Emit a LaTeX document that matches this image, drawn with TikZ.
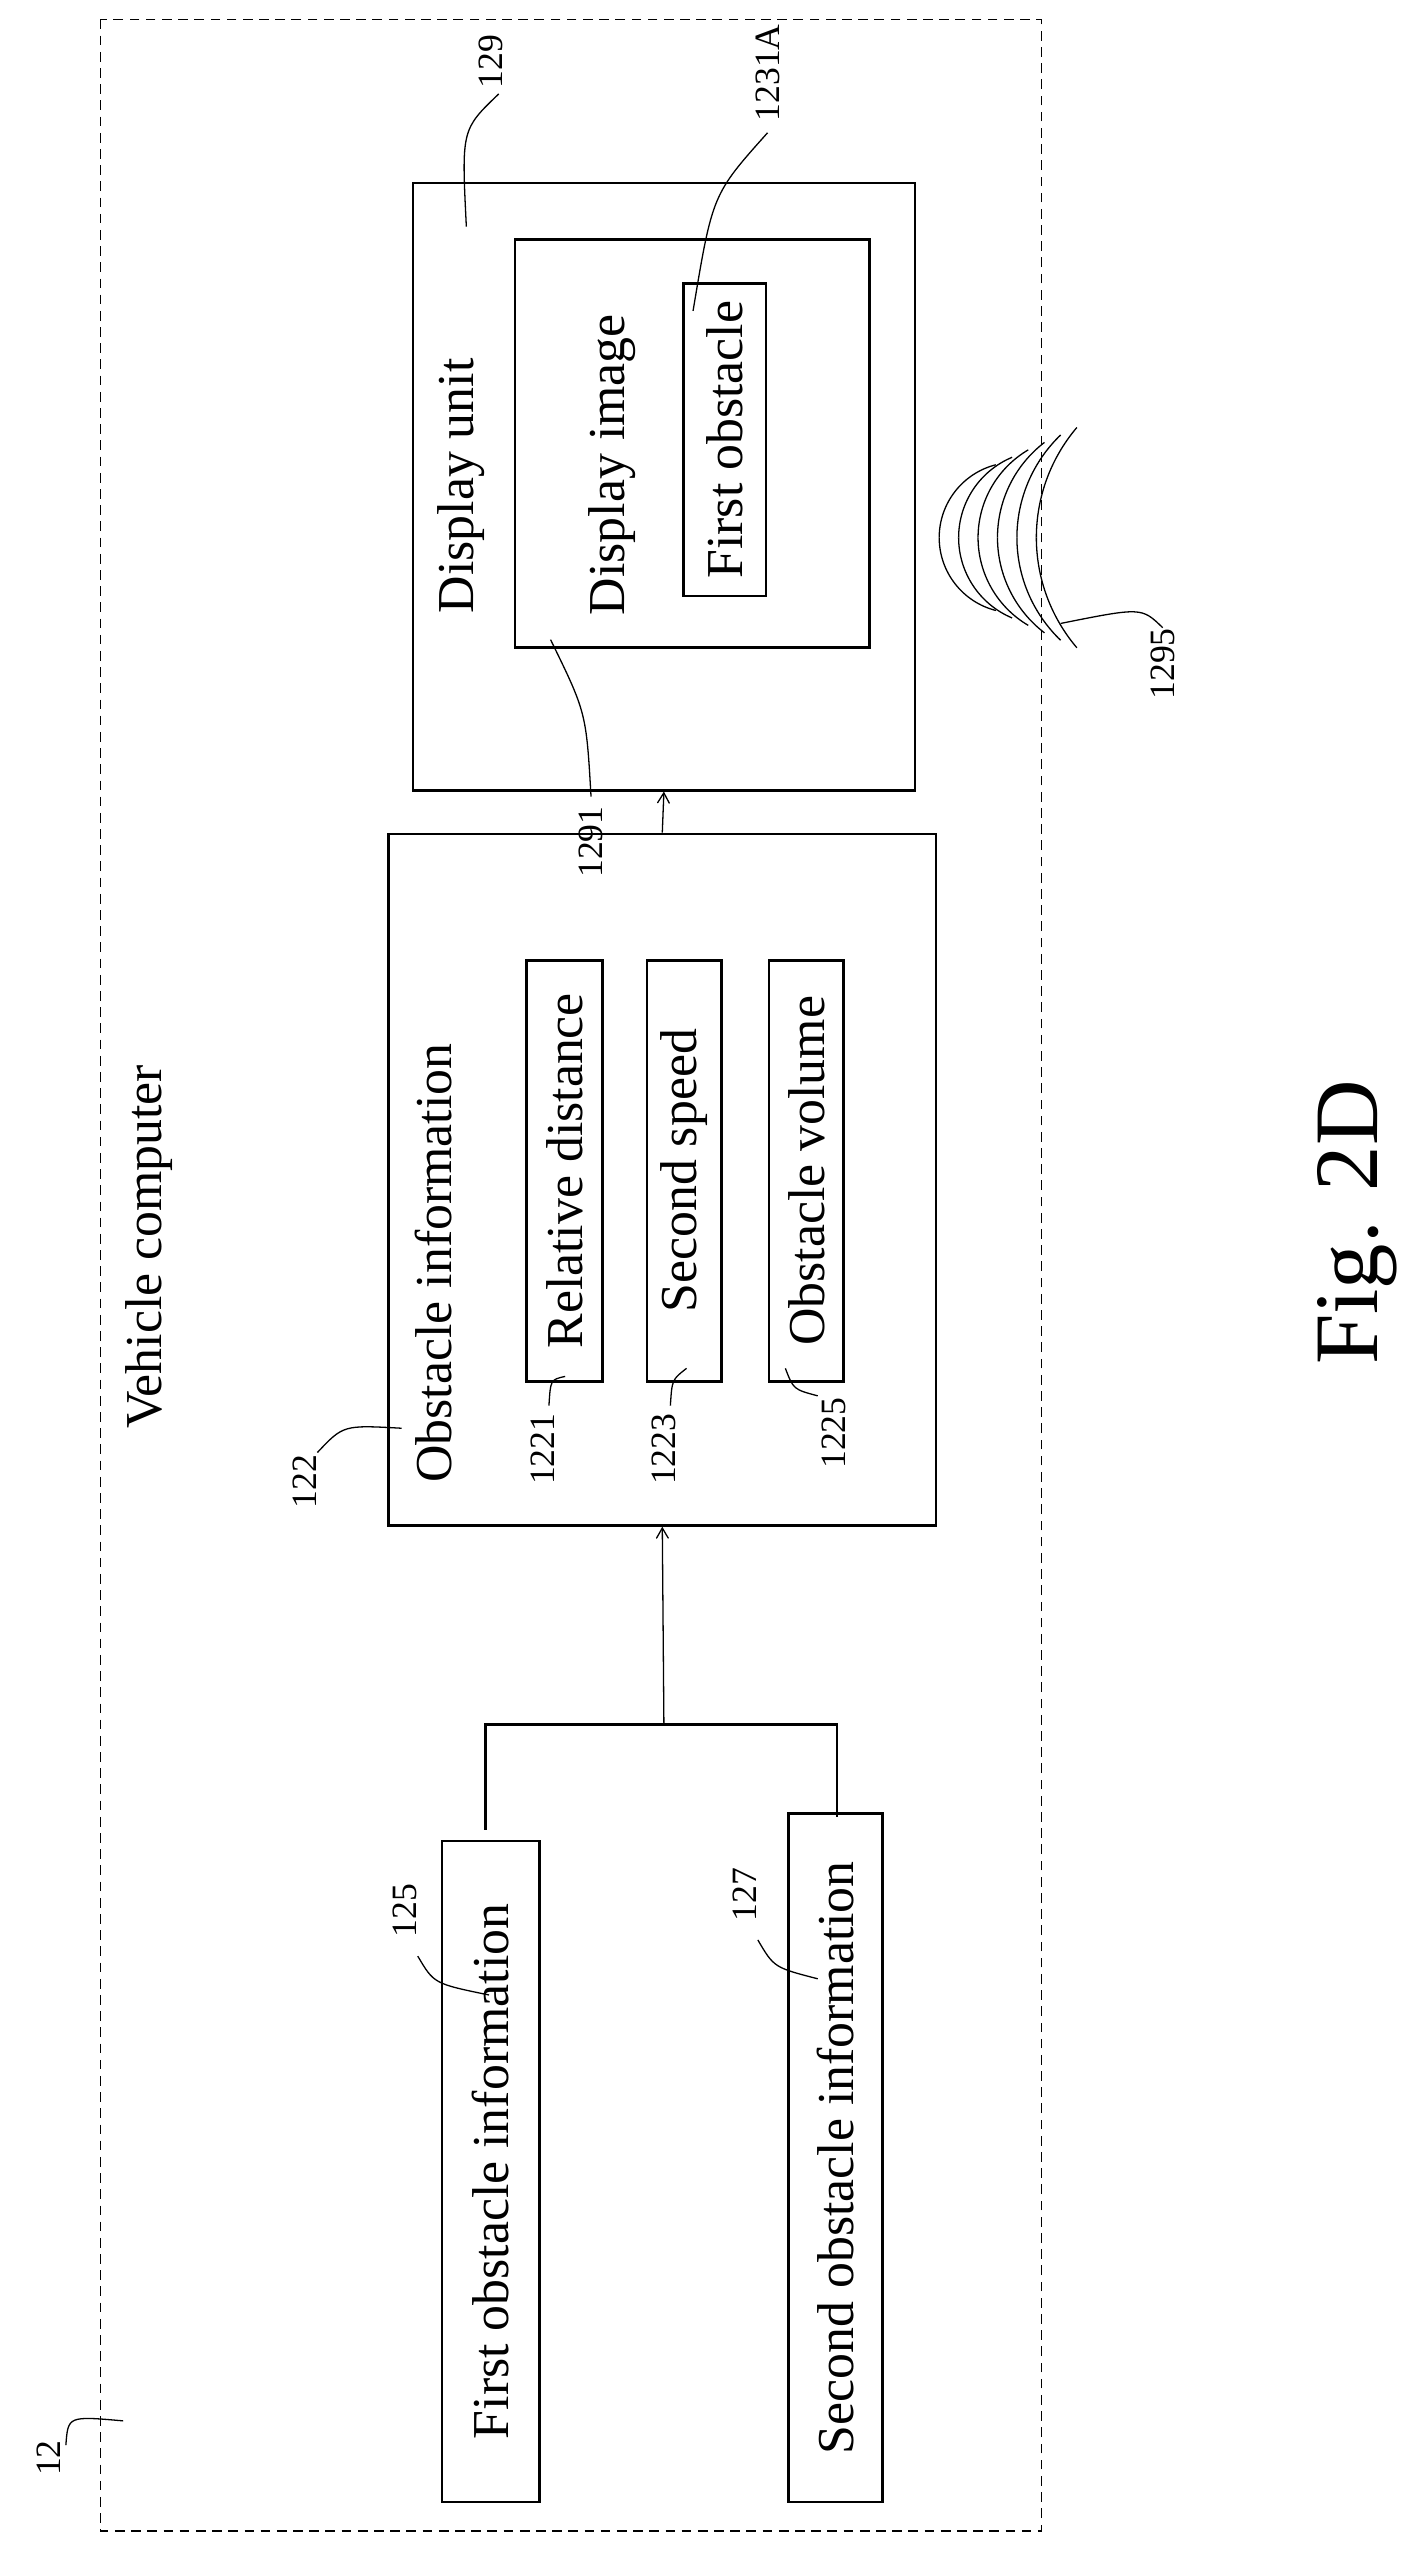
\documentclass[tikz,border=0pt]{standalone}
\usepackage{fontspec}
\setmainfont{Liberation Serif}
\usetikzlibrary{arrows}

\begin{document}
\begin{tikzpicture}[x=0.5pt, y=-0.5pt, >=angle 60]
\tikzset{
	frame/.style={rectangle, draw=black, thick, rotate=90, inner sep=0pt},
	item/.style={rectangle, draw=black, thick, rotate=90, inner sep=2pt, font=\fontsize{16}{18}\selectfont},
	txt/.style={rotate=90, inner sep=0pt, font=\fontsize{16}{18}\selectfont},
	num/.style={rotate=90, inner sep=0pt, font=\fontsize{11}{12}\selectfont},
	lead/.style={thin},
	arrow/.style={thin,->},
}
\useasboundingbox (0,0) rectangle (880,1576);
% frames
\node[frame, densely dashed, thin, minimum width=775.5pt, minimum height=290.5pt] (vehicle) at (352.5,787.5) {};
\node[frame, minimum width=187.5pt, minimum height=155pt] (dispunit) at (410,300.5) {};
\node[frame, minimum width=126pt, minimum height=109.5pt] (dispimg) at (427.5,274) {};
\node[frame, minimum width=213.5pt, minimum height=169pt] (obsinfo) at (409,728.5) {};
% boxes with text
\node[item, minimum width=96.5pt, minimum height=25.5pt] (firstobs) at (447.5,271.5) {First obstacle};
\node[item, minimum width=130pt, minimum height=23.5pt] (reldist) at (348.5,723) {Relative distance};
\node[item, minimum width=130pt, minimum height=23pt] (speed) at (422.5,723) {Second speed};
\node[item, minimum width=130pt, minimum height=23pt] (volume) at (498,723) {Obstacle volume};
\node[item, minimum width=204pt, minimum height=30pt] (firstinfo) at (303,1341) {First obstacle information};
\node[item, minimum width=212.5pt, minimum height=29pt] (secondinfo) at (516,1332.5) {Second obstacle information};
% texts
\node[txt] (vctext) at (92,770) {Vehicle computer};
\node[txt] (dutext) at (285,300) {Display unit};
\node[txt] (ditext) at (378,287) {Display image};
\node[txt] (oitext) at (268,780) {Obstacle information};
\node[rotate=90, inner sep=0pt, font=\fontsize{28}{30}\selectfont] (fig) at (838,755) {Fig. 2D};
% connectors
\coordinate (join) at (410,1065);
\coordinate (b1) at (300,1130);
\coordinate (b2) at (517,1122);
\draw[thick] (b1) |- (join) -| (b2);
\draw[arrow] (join) -- (obsinfo.west);
\draw[arrow] (obsinfo.east) -- (dispunit.west);
% waves
\foreach \i in {0,...,5}{
	\pgfmathsetmacro\h{45+4.6*\i}
	\pgfmathsetmacro\d{35-2*\i}
	\pgfmathsetmacro\r{(\h*\h+\d*\d)/(2*\d)}
	\pgfmathsetmacro\a{asin(\h/\r)}
	\draw[thin] ({580+12*\i},332) arc[start angle=180, end angle={180-\a}, radius=\r];
	\draw[thin] ({580+12*\i},332) arc[start angle=180, end angle={180+\a}, radius=\r];
}
\coordinate (wave) at (655,385);
% reference numerals
\node[num] (n12) at (30,1518) {12};
\draw[lead] (n12.south) ++(3,-8) .. controls (42,1492) .. (76,1495);
\node[num] (n125) at (250,1180) {125};
\node[num] (n127) at (460,1170) {127};
\draw[lead] (258,1208) .. controls (268,1225) .. (302,1232);
\draw[lead] (468,1198) .. controls (478,1215) .. (505,1222);
\node[num] (n122) at (188,915) {122};
\draw[lead] (196,897) .. controls (212,880) .. (248,882);
\node[num] (n1221) at (335,895) {1221};
\node[num] (n1223) at (410,895) {1223};
\node[num] (n1225) at (515,885) {1225};
\draw[lead] (339,868) .. controls (340,852) .. (349,850);
\draw[lead] (414,868) .. controls (415,852) .. (424,845);
\draw[lead] (505,862) .. controls (490,858) .. (485,845);
\node[num] (n1291) at (365,520) {1291};
\draw[lead] (365,492) .. controls (362,440) .. (340,395);
\node[num] (n129) at (303,38) {129};
\draw[lead] (308,58) .. controls (285,80) .. (288,140);
\node[num] (n1231) at (474,45) {1231A};
\draw[lead] (474,82) .. controls (440,120) .. (428,192);
\node[num] (n1295) at (718,410) {1295};
\draw[lead] (n1295.east) .. controls (705,375) .. (wave);
\end{tikzpicture}
\end{document}
